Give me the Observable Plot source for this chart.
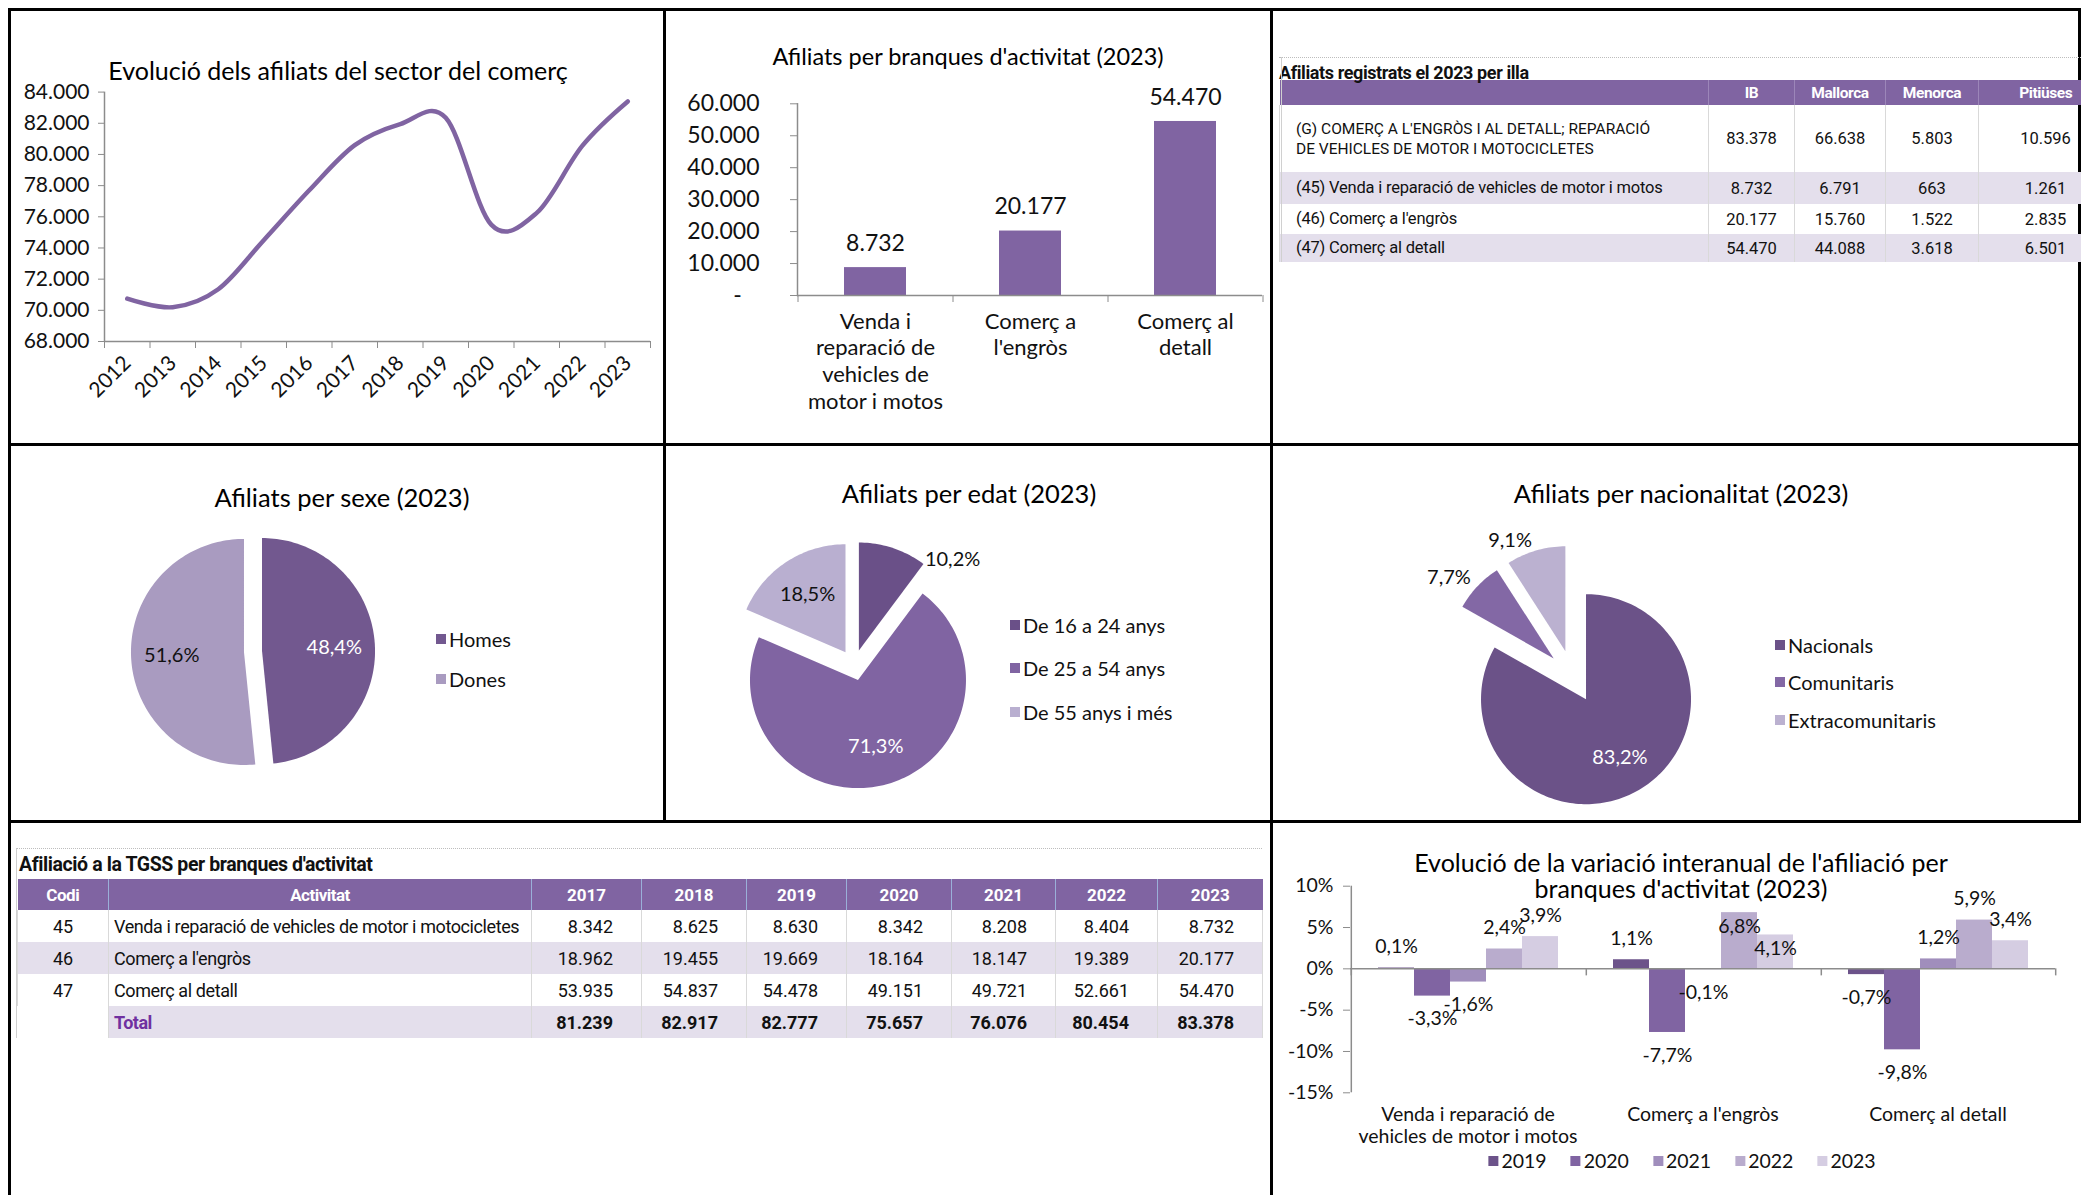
<!DOCTYPE html>
<html lang="ca">
<head>
<meta charset="utf-8">
<title>Afiliats del sector del comerç</title>
<script src="https://cdn.jsdelivr.net/npm/d3@7"></script>
<script src="https://cdn.jsdelivr.net/npm/@observablehq/plot@0.6"></script>
<style>
  html, body { margin: 0; padding: 0; background: #fff; }
  #root { position: relative; width: 2081px; height: 1195px; overflow: hidden; background: #fff;
          font-family: Lato, "Open Sans", sans-serif; color: #111; }
  .bline { position: absolute; background: #000; }
  .title { position: absolute; transform: translate(-50%, -50%); white-space: nowrap; font-size: 25px;
           color: #000; text-align: center; line-height: 25px; }
  .leg { position: absolute; display: flex; align-items: center; font-size: 20px; white-space: nowrap;
         transform: translateY(-50%); color: #111; line-height: 22px; }
  .sw { display: inline-block; width: 10px; height: 10px; margin-right: 3px; }
  .legrow { position: absolute; display: flex; align-items: center; transform: translate(-50%, -50%);
            font-size: 19.5px; white-space: nowrap; color: #111; line-height: 20px; }
  .legrow span.item { display: flex; align-items: center; margin: 0 12px; }
  .tbl { position: absolute; font-family: Roboto, "Liberation Sans", sans-serif; color: #111; }
  .tbl .ttl { font-weight: bold; white-space: nowrap; overflow: visible; }
  .tbl table { border-collapse: collapse; table-layout: fixed; }
  .tbl th { background: #8064a2; color: #fff; font-weight: bold; padding: 0; }
  .tbl td { padding: 0; border-left: 1px solid #d9d9d9; border-right: 1px solid #d9d9d9; }
  .tbl tr.alt td { background: #e4dfec; }
</style>
</head>
<body>
<div id="root"></div>
<script>
// ------------------------------------------------------------------ DATA
// Evolució dels afiliats del sector del comerç
const anys = [2012, 2013, 2014, 2015, 2016, 2017, 2018, 2019, 2020, 2021, 2022, 2023];
const afiliatsComerc = [70750, 70200, 71350, 74500, 77700, 80600, 81950, 82350, 75500, 76250, 80550, 83400];
const ticksAfiliats = [68000, 70000, 72000, 74000, 76000, 78000, 80000, 82000, 84000];

// Afiliats per branques d'activitat (2023)
const branques = ["Venda i reparació de vehicles de motor i motos", "Comerç a l'engròs", "Comerç al detall"];
const branquesEtiquetes = ["Venda i\nreparació de\nvehicles de\nmotor i motos", "Comerç a\nl'engròs", "Comerç al\ndetall"];
const afiliatsBranca2023 = [8732, 20177, 54470];
const ticksBranques = [0, 10000, 20000, 30000, 40000, 50000, 60000];

// Afiliats registrats el 2023 per illa
const illes = ["IB", "Mallorca", "Menorca", "Pitiüses"];
const illaActivitats = [
  "(G) COMERÇ A L'ENGRÒS I AL DETALL; REPARACIÓ<br>DE VEHICLES DE MOTOR I MOTOCICLETES",
  "(45) Venda i reparació de vehicles de motor i motos",
  "(46) Comerç a l'engròs",
  "(47) Comerç al detall"
];
const illaG = [83378, 66638, 5803, 10596];
const illa45 = [8732, 6791, 663, 1261];
const illa46 = [20177, 15760, 1522, 2835];
const illa47 = [54470, 44088, 3618, 6501];

// Afiliats per sexe / edat / nacionalitat (2023)
const sexes = ["Homes", "Dones"];
const sexePct = [48.4, 51.6];
const edats = ["De 16 a 24 anys", "De 25 a 54 anys", "De 55 anys i més"];
const edatPct = [10.2, 71.3, 18.5];
const nacionalitats = ["Nacionals", "Comunitaris", "Extracomunitaris"];
const nacionalitatPct = [83.2, 7.7, 9.1];

// Afiliació a la TGSS per branques d'activitat
const tgssAnys = [2017, 2018, 2019, 2020, 2021, 2022, 2023];
const tgssCodis = ["45", "46", "47"];
const tgssActivitats = ["Venda i reparació de vehicles de motor i motocicletes", "Comerç a l'engròs", "Comerç al detall"];
const tgss45 = [8342, 8625, 8630, 8342, 8208, 8404, 8732];
const tgss46 = [18962, 19455, 19669, 18164, 18147, 19389, 20177];
const tgss47 = [53935, 54837, 54478, 49151, 49721, 52661, 54470];
const tgssTotal = [81239, 82917, 82777, 75657, 76076, 80454, 83378];

// Evolució de la variació interanual de l'afiliació per branques d'activitat
const grupsVarEtiquetes = ["Venda i reparació de\nvehicles de motor i motos", "Comerç a l'engròs", "Comerç al detall"];
const anysVar = [2019, 2020, 2021, 2022, 2023];
const varVenda = [0.1, -3.3, -1.6, 2.4, 3.9];
const varEngros = [1.1, -7.7, -0.1, 6.8, 4.1];
const varDetall = [-0.7, -9.8, 1.2, 5.9, 3.4];
const ticksVar = [-15, -10, -5, 0, 5, 10];

// ------------------------------------------------------------------ STYLE
const purple = "#8064a2";
const axisGray = "#8c8c8c";
const ink = "#111";
const colSexe = ["#72588f", "#a99bc0"];
const colEdat = ["#6a5088", "#8064a2", "#b9afd0"];
const colNac = ["#6b5288", "#8368a5", "#bbb1d0"];
const colVar = ["#6c538a", "#8064a2", "#a08ebc", "#b9accd", "#d5cde2"];
const plotStyle = {background: "transparent", overflow: "visible", fontFamily: "Lato, 'Open Sans', sans-serif", color: ink};

const loc = d3.formatLocale({decimal: ",", thousands: ".", grouping: [3], currency: ["", " €"], minus: "-"});
const fmtInt = loc.format(",d");
const fmtDec = loc.format(".1f");

const root = document.getElementById("root");
function mount(node, left, top) {
  const d = document.createElement("div");
  d.style.cssText = `position:absolute;left:${left}px;top:${top}px;`;
  d.appendChild(node);
  root.appendChild(d);
  return d;
}
function addTitle(text, x, y, size) {
  const d = document.createElement("div");
  d.className = "title";
  d.style.left = x + "px"; d.style.top = y + "px";
  if (size) d.style.fontSize = size + "px";
  d.textContent = text;
  root.appendChild(d);
}
function addLegend(names, colours, x, ys) {
  names.forEach((n, i) => {
    const d = document.createElement("div");
    d.className = "leg";
    d.style.left = x + "px"; d.style.top = ys[i] + "px";
    d.innerHTML = `<span class="sw" style="background:${colours[i]}"></span>${n}`;
    root.appendChild(d);
  });
}

// ------------------------------------------------------------------ PANEL BORDERS
[[8, 8, 2073, 2.5], [8, 8, 2.5, 1187], [663, 8, 2.5, 814], [1270, 8, 2.5, 1187],
 [8, 443, 2073, 2.5], [8, 820, 2073, 2.5], [2078, 8, 3, 814]].forEach(([x, y, w, h]) => {
  const d = document.createElement("div");
  d.className = "bline";
  d.style.cssText = `left:${x}px;top:${y}px;width:${w}px;height:${h}px;`;
  root.appendChild(d);
});

// ------------------------------------------------------------------ 1. LINE CHART
{
  const data = anys.map((a, i) => ({any: a, afiliats: afiliatsComerc[i]}));
  const bounds = d3.range(anys[0] - 0.5, anys[anys.length - 1] + 1, 1);
  const chart = Plot.plot({
    width: 652, height: 432, marginLeft: 93, marginRight: 13, marginTop: 80.6, marginBottom: 102,
    style: plotStyle,
    x: {type: "linear", domain: [anys[0] - 0.5, anys[anys.length - 1] + 0.5]},
    y: {type: "linear", domain: [ticksAfiliats[0], ticksAfiliats[ticksAfiliats.length - 1]]},
    marks: [
      Plot.ruleX([anys[0] - 0.5], {stroke: axisGray, strokeWidth: 1.5}),
      Plot.ruleY([ticksAfiliats[0]], {stroke: axisGray, strokeWidth: 1.5}),
      Plot.axisY({ticks: ticksAfiliats, tickFormat: fmtInt, tickSize: 6, tickPadding: 9, fontSize: 21,
                  stroke: axisGray, fill: ink, label: null}),
      Plot.axisX({ticks: bounds, tickFormat: () => "", tickSize: 7, stroke: axisGray, label: null}),
      Plot.axisX({ticks: anys, tickFormat: d => String(d), tickSize: 0, tickRotate: -45, tickPadding: 18,
                  fontSize: 21, fill: ink, label: null}),
      Plot.line(data, {x: "any", y: "afiliats", stroke: purple, strokeWidth: 4.5, curve: "cardinal",
                       strokeLinecap: "round", strokeLinejoin: "round"})
    ]
  });
  mount(chart, 11, 11);
  addTitle("Evolució dels afiliats del sector del comerç", 338, 70, 25);
}

// ------------------------------------------------------------------ 2. BAR CHART
{
  const data = branques.map((b, i) => ({branca: b, etiqueta: branquesEtiquetes[i], afiliats: afiliatsBranca2023[i]}));
  const step = (1262 - 797) / branques.length;
  const chart = Plot.plot({
    width: 604, height: 432, marginLeft: 131, marginRight: 8, marginTop: 92.3, marginBottom: 148,
    style: plotStyle,
    x: {type: "band", domain: branques, paddingInner: 0.6, paddingOuter: 0.3},
    y: {type: "linear", domain: [ticksBranques[0], ticksBranques[ticksBranques.length - 1]]},
    marks: [
      Plot.barY(data, {x: "branca", y: "afiliats", fill: purple}),
      Plot.ruleY([0], {stroke: axisGray, strokeWidth: 1.5}),
      Plot.frame({anchor: "left", stroke: axisGray, strokeWidth: 1.5}),
      Plot.axisY({ticks: ticksBranques, tickFormat: d => d === 0 ? "-   " : fmtInt(d), tickSize: 7, tickPadding: 31,
                  fontSize: 23, stroke: axisGray, fill: ink, label: null}),
      Plot.axisX({ticks: branques, tickFormat: () => "", tickSize: 7, dx: -step / 2, stroke: axisGray, label: null}),
      Plot.axisX({ticks: [branques[branques.length - 1]], tickFormat: () => "", tickSize: 7, dx: step / 2,
                  stroke: axisGray, label: null}),
      Plot.text(data, {x: "branca", y: "afiliats", text: d => fmtInt(d.afiliats), dy: -24, fontSize: 23, fill: ink}),
      Plot.text(data, {x: "branca", text: "etiqueta", frameAnchor: "bottom", lineAnchor: "top", dy: 14,
                       fontSize: 22, lineHeight: 1.22, fill: ink})
    ]
  });
  mount(chart, 666, 11);
  addTitle("Afiliats per branques d'activitat (2023)", 968, 56, 23.5);
}

// ------------------------------------------------------------------ 3. TABLE PER ILLA
{
  const rows = [illaG, illa45, illa46, illa47];
  const heights = [67, 32, 30, 28];
  const widths = [429, 86, 91, 93, 134];
  const wrap = document.createElement("div");
  wrap.className = "tbl";
  wrap.style.cssText = "left:1279px;top:57px;width:900px;border-top:1px dotted #bdbdbd;";
  let html = `<div class="ttl" style="height:22px;line-height:30px;font-size:18px;letter-spacing:-0.4px;">Afiliats registrats el 2023 per illa</div>`;
  html += `<table style="width:${d3.sum(widths)}px;font-size:16.5px;"><colgroup>${widths.map(w => `<col style="width:${w}px">`).join("")}</colgroup>`;
  html += `<tr style="height:25px;"><th></th>${illes.map(d => `<th style="font-size:15.5px;letter-spacing:-0.4px;border-left:1px solid #9c86b9;">${d}</th>`).join("")}</tr>`;
  rows.forEach((vals, r) => {
    html += `<tr class="${r % 2 === 1 ? "alt" : ""}" style="height:${heights[r]}px;">` +
      `<td style="padding-left:16px;line-height:${r === 0 ? 20 : 18}px;${r === 0 ? "font-size:15.5px;" : "letter-spacing:-0.2px;"}">${illaActivitats[r]}</td>` +
      vals.map(v => `<td style="text-align:center;">${fmtInt(v)}</td>`).join("") + `</tr>`;
  });
  html += `</table>`;
  wrap.innerHTML = html;
  root.appendChild(wrap);
  const edge = document.createElement("div");
  edge.style.cssText = "position:absolute;left:1281px;top:57px;width:1px;height:205px;background:#d0d0d0;";
  root.appendChild(edge);
}

// ------------------------------------------------------------------ PIE HELPER
function pie(names, values, colours, opt) {
  const total = d3.sum(values);
  let acc = 0;
  const slices = values.map((v, i) => {
    const a0 = acc / total * 2 * Math.PI; acc += v;
    const a1 = acc / total * 2 * Math.PI;
    const b = (a0 + a1) / 2;
    const ox = Math.sin(b) * opt.explode, oy = Math.cos(b) * opt.explode;
    const n = Math.max(4, Math.ceil((a1 - a0) / (Math.PI / 120)));
    const pts = [{x: ox, y: oy}];
    for (let k = 0; k <= n; ++k) {
      const t = a0 + (a1 - a0) * k / n;
      pts.push({x: ox + Math.sin(t), y: oy + Math.cos(t)});
    }
    const outside = v / total < 0.12;
    const lr = outside ? 1.06 : 0.64;
    return {name: names[i], value: v, pts, outside, side: Math.sin(b) >= 0 ? "right" : "left",
            lx: ox + Math.sin(b) * lr, ly: oy + Math.cos(b) * lr,
            ink: outside || d3.hsl(colours[i]).l > 0.6 ? ink : "#ffffff"};
  });
  const {left, top, width, height, cx, cy, r} = opt;
  const label = d => fmtDec(d.value) + "%";
  const chart = Plot.plot({
    width, height, margin: 0, style: plotStyle,
    x: {type: "linear", domain: [(left - cx) / r, (left + width - cx) / r], axis: null},
    y: {type: "linear", domain: [(cy - top - height) / r, (cy - top) / r], axis: null},
    marks: [
      ...slices.map((s, i) => Plot.line(s.pts, {x: "x", y: "y", fill: colours[i], stroke: "none", curve: "linear"})),
      Plot.text(slices.filter(s => !s.outside), {x: "lx", y: "ly", text: label, fill: "ink", fontSize: 20}),
      Plot.text(slices.filter(s => s.outside && s.side === "right"),
                {x: "lx", y: "ly", text: label, fill: ink, fontSize: 20, textAnchor: "start", dx: 30, dy: 18}),
      Plot.text(slices.filter(s => s.outside && s.side === "left"),
                {x: "lx", y: "ly", text: label, fill: ink, fontSize: 20, textAnchor: "end", dx: -2, dy: -4})
    ]
  });
  mount(chart, left, top);
}

// ------------------------------------------------------------------ 4. PIE SEXE
pie(sexes, sexePct, colSexe, {left: 11, top: 446, width: 652, height: 374, cx: 252.5, cy: 651, r: 113, explode: 0.08});
addTitle("Afiliats per sexe (2023)", 342, 497, 25.5);
addLegend(sexes, colSexe, 436, [639, 679]);

// ------------------------------------------------------------------ 5. PIE EDAT
pie(edats, edatPct, colEdat, {left: 666, top: 446, width: 604, height: 374, cx: 853.5, cy: 664.7, r: 108, explode: 0.143});
addTitle("Afiliats per edat (2023)", 969, 493, 25.5);
addLegend(edats, colEdat, 1010, [625, 668, 712]);

// ------------------------------------------------------------------ 6. PIE NACIONALITAT
pie(nacionalitats, nacionalitatPct, colNac, {left: 1273, top: 446, width: 805, height: 374, cx: 1572.3, cy: 676, r: 105, explode: 0.25});
addTitle("Afiliats per nacionalitat (2023)", 1681, 493, 25.5);
addLegend(nacionalitats, colNac, 1775, [645, 682, 720]);

// ------------------------------------------------------------------ 7. TABLE TGSS
{
  const rows = [tgss45, tgss46, tgss47];
  const widths = [91, 423, 110, 105, 100, 105, 104, 102, 105];
  const wrap = document.createElement("div");
  wrap.className = "tbl";
  wrap.style.cssText = `left:16px;top:848px;width:${d3.sum(widths)}px;border-top:1px dotted #bdbdbd;border-left:1px solid #d0d0d0;`;
  let html = `<div class="ttl" style="height:30px;line-height:32px;font-size:19.5px;letter-spacing:-0.4px;padding-left:2px;">Afiliació a la TGSS per branques d'activitat</div>`;
  html += `<table style="width:${d3.sum(widths)}px;font-size:18px;"><colgroup>${widths.map(w => `<col style="width:${w}px">`).join("")}</colgroup>`;
  html += `<tr style="height:31px;font-size:17px;"><th style="letter-spacing:-0.5px;">Codi</th><th style="border-left:1px solid #9ab0d8;letter-spacing:-0.5px;">Activitat</th>` +
          tgssAnys.map(a => `<th style="border-left:1px solid #9ab0d8;">${a}</th>`).join("") + `</tr>`;
  rows.forEach((vals, r) => {
    html += `<tr class="${r % 2 === 1 ? "alt" : ""}" style="height:32px;">` +
      `<td style="text-align:center;">${tgssCodis[r]}</td>` +
      `<td style="padding-left:5px;letter-spacing:-0.4px;white-space:nowrap;">${tgssActivitats[r]}</td>` +
      vals.map(v => `<td style="text-align:right;padding-right:28px;">${fmtInt(v)}</td>`).join("") + `</tr>`;
  });
  html += `<tr class="alt" style="height:32px;font-weight:bold;"><td style="background:#fff;border:none;"></td>` +
          `<td style="padding-left:5px;color:#7030a0;letter-spacing:-0.5px;">Total</td>` +
          tgssTotal.map(v => `<td style="text-align:right;padding-right:28px;">${fmtInt(v)}</td>`).join("") + `</tr>`;
  html += `</table>`;
  wrap.innerHTML = html;
  root.appendChild(wrap);
}

// ------------------------------------------------------------------ 8. VARIACIÓ INTERANUAL
{
  const series = [varVenda, varEngros, varDetall];
  const rows = [];
  branques.forEach((g, i) => anysVar.forEach((a, j) => rows.push({grup: g, any: a, v: series[i][j]})));
  const facetW = (2055 - 1350) / branques.length;
  const pOut = 0.75;
  const barStep = facetW / (anysVar.length + 2 * pOut);
  const edgeDx = barStep * (pOut + 0.5);
  // labels of the taller bars lying under the two-line title are pulled down (as in the source chart)
  const underTitle = d => d.grup === branques[1] && d.v > 3;
  const pctLabel = d => fmtDec(d.v) + "%";
  const chart = Plot.plot({
    width: 808, height: 372, marginLeft: 77, marginRight: 26, marginTop: 62.7, marginBottom: 102.7,
    style: plotStyle,
    fx: {domain: branques, padding: 0, axis: null},
    x: {type: "band", domain: anysVar, paddingInner: 0, paddingOuter: pOut, axis: null},
    y: {type: "linear", domain: [ticksVar[0], ticksVar[ticksVar.length - 1]]},
    color: {type: "ordinal", domain: anysVar, range: colVar},
    marks: [
      Plot.axisY({ticks: ticksVar, tickFormat: d => d + "%", tickSize: 7, tickPadding: 10, fontSize: 19.5,
                  stroke: axisGray, fill: ink, label: null}),
      Plot.barY(rows, {fx: "grup", x: "any", y: "v", fill: "any"}),
      Plot.ruleY([0], {stroke: axisGray, strokeWidth: 1.5}),
      Plot.ruleX(branques.map(g => ({grup: g, any: anysVar[0]})),
                 {fx: "grup", x: "any", y1: 0, y2: -0.85, dx: -edgeDx, stroke: axisGray, strokeWidth: 1.5}),
      Plot.ruleX([{grup: branques[0], any: anysVar[0]}],
                 {fx: "grup", x: "any", y1: ticksVar[0], y2: ticksVar[ticksVar.length - 1], dx: -edgeDx, stroke: axisGray, strokeWidth: 1.5}),
      Plot.ruleX([{grup: branques[branques.length - 1], any: anysVar[anysVar.length - 1]}],
                 {fx: "grup", x: "any", y1: 0, y2: -0.85, dx: edgeDx, stroke: axisGray, strokeWidth: 1.5}),
      Plot.text(rows.filter(d => d.v >= 0 && !underTitle(d)), {fx: "grup", x: "any", y: "v", text: pctLabel,
                                              dy: -21, fontSize: 19.5, fill: ink}),
      Plot.text(rows.filter(underTitle), {fx: "grup", x: "any", y: "v", text: pctLabel,
                                              dy: 14, fontSize: 19.5, fill: ink}),
      Plot.text(rows.filter(d => d.v < 0), {fx: "grup", x: "any", y: "v", text: pctLabel,
                                             dy: 23, fontSize: 19.5, fill: ink}),
      Plot.text(branques.map((g, i) => ({grup: g, etiqueta: grupsVarEtiquetes[i]})),
                {fx: "grup", text: "etiqueta", frameAnchor: "bottom", lineAnchor: "top", dy: 13,
                 fontSize: 19.5, lineHeight: 1.13, fill: ink})
    ]
  });
  mount(chart, 1273, 823);
  addTitle("Evolució de la variació interanual de l'afiliació per", 1681, 861.5, 25);
  addTitle("branques d'activitat (2023)", 1681, 887.5, 25);

  const lg = document.createElement("div");
  lg.className = "legrow";
  lg.style.left = "1682px"; lg.style.top = "1161px";
  lg.innerHTML = anysVar.map((a, i) => `<span class="item"><span class="sw" style="background:${colVar[i]}"></span>${a}</span>`).join("");
  root.appendChild(lg);
}
</script>
</body>
</html>
